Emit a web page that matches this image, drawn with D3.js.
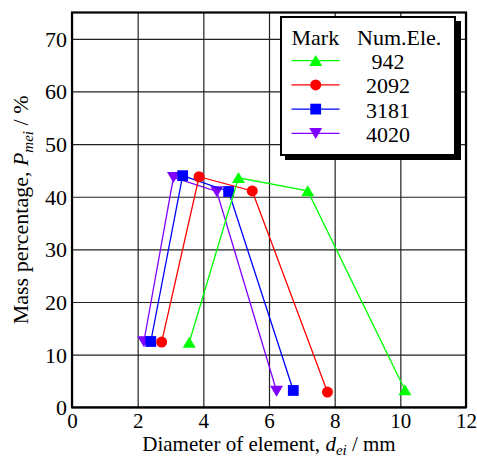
<!DOCTYPE html>
<html>
<head>
<meta charset="utf-8">
<script src="https://cdn.jsdelivr.net/npm/d3@7"></script>
<style>
  body { margin: 0; background: #fff; }
  svg text { font-family: "Liberation Serif", Tinos, "Times New Roman", "DejaVu Serif", serif; fill: #000; }
</style>
</head>
<body>
<div id="chart"></div>
<script>
// values
const numEle = ["942", "2092", "3181", "4020"];
const diameter942 = [3.57, 5.07, 7.18, 10.14];
const mass942 = [12.3, 43.6, 41.1, 3.3];
const diameter2092 = [2.73, 3.87, 5.49, 7.78];
const mass2092 = [12.4, 43.8, 41.1, 2.9];
const diameter3181 = [2.40, 3.37, 4.77, 6.74];
const mass3181 = [12.5, 44.0, 41.0, 3.2];
const diameter4020 = [2.19, 3.09, 4.41, 6.23];
const mass4020 = [12.5, 43.7, 41.0, 3.1];
const xTicks = [0, 2, 4, 6, 8, 10, 12];
const yTicks = [0, 10, 20, 30, 40, 50, 60, 70];

const serif = "'Liberation Serif', Tinos, 'Times New Roman', 'DejaVu Serif', serif";

// svg set up
let svgWidth = 477;
let svgHeight = 459;
let margin = { top: 12.5, left: 72, right: 11, bottom: 51.7 };
let width = svgWidth - margin.left - margin.right;
let height = svgHeight - margin.top - margin.bottom;

let svg = d3.select("#chart")
    .append("svg")
    .attr("width", svgWidth)
    .attr("height", svgHeight)
    .attr("font-family", serif);

let chartGroup = svg.append("g")
    .attr("transform", `translate(${margin.left},${margin.top})`);

let xScale = d3.scaleLinear().domain([0, 12]).range([0, width]);
let yScale = d3.scaleLinear().domain([0, 75]).range([height, 0]);

// series table built from the arrays
let series = [
    { name: numEle[0], xs: diameter942, ys: mass942, color: "#00ff00", mark: "up" },
    { name: numEle[1], xs: diameter2092, ys: mass2092, color: "#ff0000", mark: "circle" },
    { name: numEle[2], xs: diameter3181, ys: mass3181, color: "#0000ff", mark: "square" },
    { name: numEle[3], xs: diameter4020, ys: mass4020, color: "#8000ff", mark: "down" }
];

// grid lines via axes
let xGrid = chartGroup.append("g")
    .attr("transform", `translate(0,${height})`)
    .call(d3.axisBottom(xScale).tickValues(xTicks).tickSize(-height).tickFormat(""));
let yGrid = chartGroup.append("g")
    .call(d3.axisLeft(yScale).tickValues(yTicks).tickSize(-width).tickFormat(""));
[xGrid, yGrid].forEach(g => {
    g.select(".domain").remove();
    g.selectAll("line").attr("stroke", "#222").attr("stroke-width", 1.2);
});

// tick labels
let xLabels = chartGroup.append("g")
    .attr("transform", `translate(0,${height})`)
    .call(d3.axisBottom(xScale).tickValues(xTicks).tickSize(0).tickPadding(0));
xLabels.attr("font-family", serif).attr("font-size", 21);
xLabels.select(".domain").remove();
xLabels.selectAll("text")
    .attr("y", 20.5).attr("dy", null).attr("fill", "#000");

let yLabels = chartGroup.append("g")
    .call(d3.axisLeft(yScale).tickValues(yTicks).tickSize(0).tickPadding(0));
yLabels.attr("font-family", serif).attr("font-size", 22);
yLabels.select(".domain").remove();
yLabels.selectAll("text")
    .attr("x", -5).attr("dy", "0.34em").attr("fill", "#000");

// frame
chartGroup.append("rect")
    .attr("width", width).attr("height", height)
    .attr("fill", "none").attr("stroke", "#000").attr("stroke-width", 2.2);

// marker shapes
function markerPath(kind) {
    if (kind === "up") return "M0,-5.8L6.5,5.2L-6.5,5.2Z";
    if (kind === "down") return "M0,5.8L6.5,-5.2L-6.5,-5.2Z";
    if (kind === "square") return "M-5.4,-5.4H5.4V5.4H-5.4Z";
    return d3.symbol(d3.symbolCircle, Math.PI * 5.5 * 5.5)();
}

let line = d3.line()
    .x(d => xScale(d[0]))
    .y(d => yScale(d[1]));

// draw last series first so the order of overlaps matches
series.slice().reverse().forEach(s => {
    let pts = s.xs.map((x, i) => [x, s.ys[i]]);
    let g = chartGroup.append("g");
    g.append("path")
        .attr("d", line(pts))
        .attr("fill", "none")
        .attr("stroke", s.color)
        .attr("stroke-width", 1.3);
    g.selectAll("path.mk")
        .data(pts)
        .enter()
        .append("path")
        .classed("mk", true)
        .attr("transform", d => `translate(${xScale(d[0])},${yScale(d[1])})`)
        .attr("d", markerPath(s.mark))
        .attr("fill", s.color);
});

// legend box with shadow
let legend = svg.append("g").attr("transform", "translate(280,16)");
legend.append("rect")
    .attr("x", 5).attr("y", 5).attr("width", 176).attr("height", 139)
    .attr("fill", "#000");
legend.append("rect")
    .attr("x", 1).attr("y", 1).attr("width", 174).attr("height", 138)
    .attr("fill", "#fff").attr("stroke", "#000").attr("stroke-width", 2);

legend.append("text")
    .attr("x", 11.5).attr("y", 29)
    .attr("font-size", 22)
    .text("Mark");
legend.append("text")
    .attr("x", 77).attr("y", 29)
    .attr("font-size", 22)
    .text("Num.Ele.");

series.forEach((s, i) => {
    let cy = 44.7 + i * 24.2;
    legend.append("line")
        .attr("x1", 11.5).attr("x2", 59.5)
        .attr("y1", cy).attr("y2", cy)
        .attr("stroke", s.color).attr("stroke-width", 1.3);
    legend.append("path")
        .attr("transform", `translate(35.7,${cy})`)
        .attr("d", markerPath(s.mark))
        .attr("fill", s.color);
    legend.append("text")
        .attr("x", 108).attr("y", cy + 8.5)
        .attr("text-anchor", "middle")
        .attr("font-size", 22)
        .text(s.name);
});

// axis titles
let xTitle = svg.append("text")
    .attr("x", margin.left + width / 2)
    .attr("y", 451)
    .attr("text-anchor", "middle")
    .attr("font-size", 21);
xTitle.append("tspan").text("Diameter of element, ");
xTitle.append("tspan").attr("font-style", "italic").text("d");
xTitle.append("tspan").attr("font-style", "italic").attr("font-size", 15).attr("dy", 4).text("ei");
xTitle.append("tspan").attr("dy", -4).text(" / mm");

let yTitle = svg.append("text")
    .attr("transform", "rotate(-90)")
    .attr("x", -(margin.top + height / 2))
    .attr("y", 28)
    .attr("text-anchor", "middle")
    .attr("font-size", 22);
yTitle.append("tspan").text("Mass percentage, ");
yTitle.append("tspan").attr("font-style", "italic").text("P");
yTitle.append("tspan").attr("font-style", "italic").attr("font-size", 15).attr("dy", 5).text("mei");
yTitle.append("tspan").attr("dy", -5).text(" / %");
</script>
</body>
</html>
